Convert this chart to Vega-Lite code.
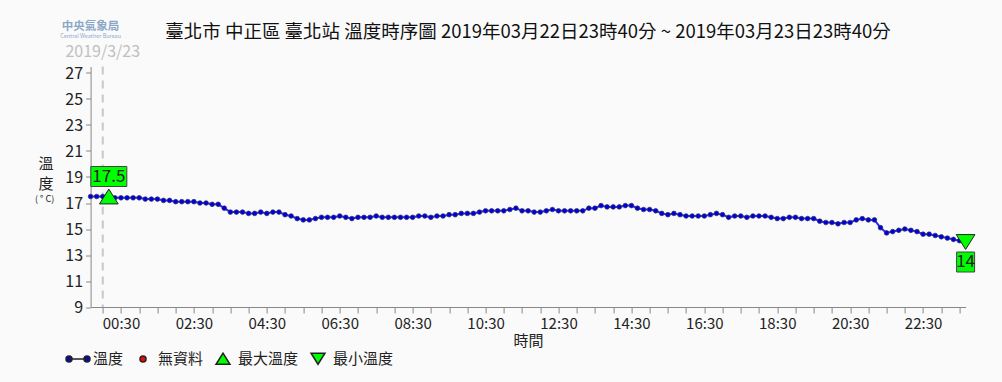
{
  "$schema": "https://vega.github.io/schema/vega-lite/v6.json",
  "autosize": "none",
  "width": 875,
  "height": 240.5,
  "padding": {"left": 90.6, "top": 66.5, "right": 36.4, "bottom": 75},
  "background": "#fafafa",
  "title": {
    "text": "臺北市 中正區 臺北站 溫度時序圖 2019年03月22日23時40分 ~ 2019年03月23日23時40分",
    "fontSize": 18.5,
    "fontWeight": "normal",
    "color": "#111111",
    "anchor": "middle",
    "offset": -20.5
  },
  "datasets": {
    "temp": [
      {"t": "2019-03-22T23:40", "v": 17.5}, {"t": "2019-03-22T23:50", "v": 17.5},
      {"t": "2019-03-23T00:00", "v": 17.5}, {"t": "2019-03-23T00:10", "v": 17.5},
      {"t": "2019-03-23T00:20", "v": 17.4}, {"t": "2019-03-23T00:30", "v": 17.4},
      {"t": "2019-03-23T00:40", "v": 17.4}, {"t": "2019-03-23T00:50", "v": 17.4},
      {"t": "2019-03-23T01:00", "v": 17.4}, {"t": "2019-03-23T01:10", "v": 17.3},
      {"t": "2019-03-23T01:20", "v": 17.3}, {"t": "2019-03-23T01:30", "v": 17.3},
      {"t": "2019-03-23T01:40", "v": 17.2}, {"t": "2019-03-23T01:50", "v": 17.2},
      {"t": "2019-03-23T02:00", "v": 17.1}, {"t": "2019-03-23T02:10", "v": 17.1},
      {"t": "2019-03-23T02:20", "v": 17.1}, {"t": "2019-03-23T02:30", "v": 17.1},
      {"t": "2019-03-23T02:40", "v": 17.0}, {"t": "2019-03-23T02:50", "v": 17.0},
      {"t": "2019-03-23T03:00", "v": 16.9}, {"t": "2019-03-23T03:10", "v": 16.9},
      {"t": "2019-03-23T03:20", "v": 16.6}, {"t": "2019-03-23T03:30", "v": 16.3},
      {"t": "2019-03-23T03:40", "v": 16.3}, {"t": "2019-03-23T03:50", "v": 16.3},
      {"t": "2019-03-23T04:00", "v": 16.2}, {"t": "2019-03-23T04:10", "v": 16.2},
      {"t": "2019-03-23T04:20", "v": 16.3}, {"t": "2019-03-23T04:30", "v": 16.2},
      {"t": "2019-03-23T04:40", "v": 16.3}, {"t": "2019-03-23T04:50", "v": 16.3},
      {"t": "2019-03-23T05:00", "v": 16.1}, {"t": "2019-03-23T05:10", "v": 16.0},
      {"t": "2019-03-23T05:20", "v": 15.8}, {"t": "2019-03-23T05:30", "v": 15.7},
      {"t": "2019-03-23T05:40", "v": 15.7}, {"t": "2019-03-23T05:50", "v": 15.8},
      {"t": "2019-03-23T06:00", "v": 15.9}, {"t": "2019-03-23T06:10", "v": 15.9},
      {"t": "2019-03-23T06:20", "v": 15.9}, {"t": "2019-03-23T06:30", "v": 16.0},
      {"t": "2019-03-23T06:40", "v": 15.9}, {"t": "2019-03-23T06:50", "v": 15.8},
      {"t": "2019-03-23T07:00", "v": 15.9}, {"t": "2019-03-23T07:10", "v": 15.9},
      {"t": "2019-03-23T07:20", "v": 15.9}, {"t": "2019-03-23T07:30", "v": 16.0},
      {"t": "2019-03-23T07:40", "v": 15.9}, {"t": "2019-03-23T07:50", "v": 15.9},
      {"t": "2019-03-23T08:00", "v": 15.9}, {"t": "2019-03-23T08:10", "v": 15.9},
      {"t": "2019-03-23T08:20", "v": 15.9}, {"t": "2019-03-23T08:30", "v": 15.9},
      {"t": "2019-03-23T08:40", "v": 16.0}, {"t": "2019-03-23T08:50", "v": 16.0},
      {"t": "2019-03-23T09:00", "v": 15.9}, {"t": "2019-03-23T09:10", "v": 16.0},
      {"t": "2019-03-23T09:20", "v": 16.0}, {"t": "2019-03-23T09:30", "v": 16.1},
      {"t": "2019-03-23T09:40", "v": 16.1}, {"t": "2019-03-23T09:50", "v": 16.2},
      {"t": "2019-03-23T10:00", "v": 16.2}, {"t": "2019-03-23T10:10", "v": 16.2},
      {"t": "2019-03-23T10:20", "v": 16.3}, {"t": "2019-03-23T10:30", "v": 16.4},
      {"t": "2019-03-23T10:40", "v": 16.4}, {"t": "2019-03-23T10:50", "v": 16.4},
      {"t": "2019-03-23T11:00", "v": 16.4}, {"t": "2019-03-23T11:10", "v": 16.5},
      {"t": "2019-03-23T11:20", "v": 16.6}, {"t": "2019-03-23T11:30", "v": 16.4},
      {"t": "2019-03-23T11:40", "v": 16.4}, {"t": "2019-03-23T11:50", "v": 16.3},
      {"t": "2019-03-23T12:00", "v": 16.3}, {"t": "2019-03-23T12:10", "v": 16.4},
      {"t": "2019-03-23T12:20", "v": 16.5}, {"t": "2019-03-23T12:30", "v": 16.4},
      {"t": "2019-03-23T12:40", "v": 16.4}, {"t": "2019-03-23T12:50", "v": 16.4},
      {"t": "2019-03-23T13:00", "v": 16.4}, {"t": "2019-03-23T13:10", "v": 16.4},
      {"t": "2019-03-23T13:20", "v": 16.6}, {"t": "2019-03-23T13:30", "v": 16.6},
      {"t": "2019-03-23T13:40", "v": 16.8}, {"t": "2019-03-23T13:50", "v": 16.7},
      {"t": "2019-03-23T14:00", "v": 16.7}, {"t": "2019-03-23T14:10", "v": 16.7},
      {"t": "2019-03-23T14:20", "v": 16.8}, {"t": "2019-03-23T14:30", "v": 16.8},
      {"t": "2019-03-23T14:40", "v": 16.6}, {"t": "2019-03-23T14:50", "v": 16.5},
      {"t": "2019-03-23T15:00", "v": 16.5}, {"t": "2019-03-23T15:10", "v": 16.4},
      {"t": "2019-03-23T15:20", "v": 16.2}, {"t": "2019-03-23T15:30", "v": 16.1},
      {"t": "2019-03-23T15:40", "v": 16.2}, {"t": "2019-03-23T15:50", "v": 16.1},
      {"t": "2019-03-23T16:00", "v": 16.0}, {"t": "2019-03-23T16:10", "v": 16.0},
      {"t": "2019-03-23T16:20", "v": 16.0}, {"t": "2019-03-23T16:30", "v": 16.0},
      {"t": "2019-03-23T16:40", "v": 16.1}, {"t": "2019-03-23T16:50", "v": 16.2},
      {"t": "2019-03-23T17:00", "v": 16.1}, {"t": "2019-03-23T17:10", "v": 15.9},
      {"t": "2019-03-23T17:20", "v": 16.0}, {"t": "2019-03-23T17:30", "v": 16.0},
      {"t": "2019-03-23T17:40", "v": 15.9}, {"t": "2019-03-23T17:50", "v": 16.0},
      {"t": "2019-03-23T18:00", "v": 16.0}, {"t": "2019-03-23T18:10", "v": 16.0},
      {"t": "2019-03-23T18:20", "v": 15.9}, {"t": "2019-03-23T18:30", "v": 15.8},
      {"t": "2019-03-23T18:40", "v": 15.8}, {"t": "2019-03-23T18:50", "v": 15.9},
      {"t": "2019-03-23T19:00", "v": 15.9}, {"t": "2019-03-23T19:10", "v": 15.8},
      {"t": "2019-03-23T19:20", "v": 15.8}, {"t": "2019-03-23T19:30", "v": 15.8},
      {"t": "2019-03-23T19:40", "v": 15.6}, {"t": "2019-03-23T19:50", "v": 15.5},
      {"t": "2019-03-23T20:00", "v": 15.5}, {"t": "2019-03-23T20:10", "v": 15.4},
      {"t": "2019-03-23T20:20", "v": 15.5}, {"t": "2019-03-23T20:30", "v": 15.5},
      {"t": "2019-03-23T20:40", "v": 15.7}, {"t": "2019-03-23T20:50", "v": 15.8},
      {"t": "2019-03-23T21:00", "v": 15.7}, {"t": "2019-03-23T21:10", "v": 15.7},
      {"t": "2019-03-23T21:20", "v": 15.1}, {"t": "2019-03-23T21:30", "v": 14.7},
      {"t": "2019-03-23T21:40", "v": 14.8}, {"t": "2019-03-23T21:50", "v": 14.9},
      {"t": "2019-03-23T22:00", "v": 15.0}, {"t": "2019-03-23T22:10", "v": 14.9},
      {"t": "2019-03-23T22:20", "v": 14.8}, {"t": "2019-03-23T22:30", "v": 14.6},
      {"t": "2019-03-23T22:40", "v": 14.6}, {"t": "2019-03-23T22:50", "v": 14.5},
      {"t": "2019-03-23T23:00", "v": 14.4}, {"t": "2019-03-23T23:10", "v": 14.3},
      {"t": "2019-03-23T23:20", "v": 14.2}, {"t": "2019-03-23T23:30", "v": 14.1},
      {"t": "2019-03-23T23:40", "v": 14.0}
    ],
    "extremes": [
      {"t": "2019-03-23T00:10", "v": 17.5, "kind": "最大溫度", "label": "17.5"},
      {"t": "2019-03-23T23:40", "v": 14.0, "kind": "最小溫度", "label": "14"}
    ],
    "notes": [
      {"t": "2019-03-23T00:00", "text": "2019/3/23", "kind": "day"},
      {"t": "2019-03-22T23:40", "text": "中央氣象局", "kind": "logo"},
      {"t": "2019-03-22T23:40", "text": "Central Weather Bureau", "kind": "logoen"},
      {"t": "2019-03-22T23:40", "text": "( ° C)", "kind": "unit"}
    ]
  },
  "encoding": {
    "x": {
      "field": "t",
      "type": "temporal",
      "scale": {
        "domain": [
          {"year": 2019, "month": 3, "date": 22, "hours": 23, "minutes": 40},
          {"year": 2019, "month": 3, "date": 23, "hours": 23, "minutes": 40}
        ],
        "nice": false
      },
      "axis": {
        "title": "時間",
        "titleFontSize": 15,
        "titleFontWeight": "normal",
        "titleColor": "#222222",
        "titlePadding": 2,
        "values": [
          {"year": 2019, "month": 3, "date": 23, "hours": 0, "minutes": 0}, {"year": 2019, "month": 3, "date": 23, "hours": 0, "minutes": 30},
          {"year": 2019, "month": 3, "date": 23, "hours": 1, "minutes": 0}, {"year": 2019, "month": 3, "date": 23, "hours": 1, "minutes": 30},
          {"year": 2019, "month": 3, "date": 23, "hours": 2, "minutes": 0}, {"year": 2019, "month": 3, "date": 23, "hours": 2, "minutes": 30},
          {"year": 2019, "month": 3, "date": 23, "hours": 3, "minutes": 0}, {"year": 2019, "month": 3, "date": 23, "hours": 3, "minutes": 30},
          {"year": 2019, "month": 3, "date": 23, "hours": 4, "minutes": 0}, {"year": 2019, "month": 3, "date": 23, "hours": 4, "minutes": 30},
          {"year": 2019, "month": 3, "date": 23, "hours": 5, "minutes": 0}, {"year": 2019, "month": 3, "date": 23, "hours": 5, "minutes": 30},
          {"year": 2019, "month": 3, "date": 23, "hours": 6, "minutes": 0}, {"year": 2019, "month": 3, "date": 23, "hours": 6, "minutes": 30},
          {"year": 2019, "month": 3, "date": 23, "hours": 7, "minutes": 0}, {"year": 2019, "month": 3, "date": 23, "hours": 7, "minutes": 30},
          {"year": 2019, "month": 3, "date": 23, "hours": 8, "minutes": 0}, {"year": 2019, "month": 3, "date": 23, "hours": 8, "minutes": 30},
          {"year": 2019, "month": 3, "date": 23, "hours": 9, "minutes": 0}, {"year": 2019, "month": 3, "date": 23, "hours": 9, "minutes": 30},
          {"year": 2019, "month": 3, "date": 23, "hours": 10, "minutes": 0}, {"year": 2019, "month": 3, "date": 23, "hours": 10, "minutes": 30},
          {"year": 2019, "month": 3, "date": 23, "hours": 11, "minutes": 0}, {"year": 2019, "month": 3, "date": 23, "hours": 11, "minutes": 30},
          {"year": 2019, "month": 3, "date": 23, "hours": 12, "minutes": 0}, {"year": 2019, "month": 3, "date": 23, "hours": 12, "minutes": 30},
          {"year": 2019, "month": 3, "date": 23, "hours": 13, "minutes": 0}, {"year": 2019, "month": 3, "date": 23, "hours": 13, "minutes": 30},
          {"year": 2019, "month": 3, "date": 23, "hours": 14, "minutes": 0}, {"year": 2019, "month": 3, "date": 23, "hours": 14, "minutes": 30},
          {"year": 2019, "month": 3, "date": 23, "hours": 15, "minutes": 0}, {"year": 2019, "month": 3, "date": 23, "hours": 15, "minutes": 30},
          {"year": 2019, "month": 3, "date": 23, "hours": 16, "minutes": 0}, {"year": 2019, "month": 3, "date": 23, "hours": 16, "minutes": 30},
          {"year": 2019, "month": 3, "date": 23, "hours": 17, "minutes": 0}, {"year": 2019, "month": 3, "date": 23, "hours": 17, "minutes": 30},
          {"year": 2019, "month": 3, "date": 23, "hours": 18, "minutes": 0}, {"year": 2019, "month": 3, "date": 23, "hours": 18, "minutes": 30},
          {"year": 2019, "month": 3, "date": 23, "hours": 19, "minutes": 0}, {"year": 2019, "month": 3, "date": 23, "hours": 19, "minutes": 30},
          {"year": 2019, "month": 3, "date": 23, "hours": 20, "minutes": 0}, {"year": 2019, "month": 3, "date": 23, "hours": 20, "minutes": 30},
          {"year": 2019, "month": 3, "date": 23, "hours": 21, "minutes": 0}, {"year": 2019, "month": 3, "date": 23, "hours": 21, "minutes": 30},
          {"year": 2019, "month": 3, "date": 23, "hours": 22, "minutes": 0}, {"year": 2019, "month": 3, "date": 23, "hours": 22, "minutes": 30},
          {"year": 2019, "month": 3, "date": 23, "hours": 23, "minutes": 0}, {"year": 2019, "month": 3, "date": 23, "hours": 23, "minutes": 30}
        ],
        "labelExpr": "(hours(datum.value) % 2 == 0 && minutes(datum.value) == 30) ? timeFormat(datum.value, '%H:%M') : ''",
        "labelOverlap": false,
        "labelFlush": false,
        "labelFontSize": 15,
        "labelColor": "#222222",
        "labelPadding": 3,
        "tickSize": 6,
        "tickColor": "#888888",
        "domainColor": "#888888",
        "grid": false
      }
    }
  },
  "layer": [
    {
      "data": {"name": "notes"},
      "transform": [{"filter": "datum.kind == 'day'"}],
      "mark": {"type": "rule", "color": "#c8c8c8", "strokeWidth": 2, "strokeDash": [8, 6]},
      "encoding": {}
    },
    {
      "data": {"name": "notes"},
      "transform": [{"filter": "datum.kind == 'day'"}],
      "mark": {"type": "text", "color": "#c0c0c0", "fontSize": 16, "baseline": "middle", "align": "center", "dy": -14.5},
      "encoding": {
        "y": {"datum": 27.5, "type": "quantitative", "axis": {"values": [9, 11, 13, 15, 17, 19, 21, 23, 25, 27], "labelOverlap": false, "title": ["溫", "度"]}},
        "text": {"field": "text"}
      }
    },
    {
      "data": {"name": "notes"},
      "transform": [{"filter": "datum.kind == 'logo'"}],
      "mark": {"type": "text", "color": "#8aa9c8", "fontSize": 11.5, "fontWeight": "bold", "letterSpacing": 2.5, "baseline": "middle", "align": "center", "dy": -39.5},
      "encoding": {
        "y": {"datum": 27.5, "type": "quantitative", "axis": {"values": [9, 11, 13, 15, 17, 19, 21, 23, 25, 27], "labelOverlap": false, "title": ["溫", "度"]}},
        "text": {"field": "text"}
      }
    },
    {
      "data": {"name": "notes"},
      "transform": [{"filter": "datum.kind == 'logoen'"}],
      "mark": {"type": "text", "color": "#8aa9c8", "fontSize": 5.5, "baseline": "middle", "align": "center", "dy": -30.5},
      "encoding": {
        "y": {"datum": 27.5, "type": "quantitative", "axis": {"values": [9, 11, 13, 15, 17, 19, 21, 23, 25, 27], "labelOverlap": false, "title": ["溫", "度"]}},
        "text": {"field": "text"}
      }
    },
    {
      "data": {"name": "notes"},
      "transform": [{"filter": "datum.kind == 'unit'"}],
      "mark": {"type": "text", "color": "#222222", "fontSize": 9, "baseline": "middle", "align": "center", "dx": -46},
      "encoding": {
        "y": {"datum": 17.3, "type": "quantitative", "axis": {"values": [9, 11, 13, 15, 17, 19, 21, 23, 25, 27], "labelOverlap": false, "title": ["溫", "度"]}},
        "text": {"field": "text"}
      }
    },
    {
      "data": {"name": "temp"},
      "mark": {"type": "line", "color": "#2a2aff", "strokeWidth": 2},
      "encoding": {
        "y": {
          "field": "v",
          "type": "quantitative",
          "scale": {"domain": [9, 27.5], "nice": false, "zero": false},
          "axis": {
            "title": ["溫", "度"],
            "titleAngle": 0,
            "titleFontSize": 15,
            "titleFontWeight": "normal",
            "titleColor": "#222222",
            "titleAlign": "center",
            "titleBaseline": "top",
            "titleX": -45,
            "titleY": 90,
            "titleLineHeight": 20,
            "values": [9, 11, 13, 15, 17, 19, 21, 23, 25, 27],
            "labelOverlap": false,
            "labelFontSize": 16,
            "labelColor": "#222222",
            "labelPadding": 3,
            "tickSize": 5,
            "tickColor": "#888888",
            "domainColor": "#888888",
            "grid": false
          }
        }
      }
    },
    {
      "data": {"name": "temp"},
      "mark": {"type": "point", "filled": true, "fill": "#0000dd", "stroke": "#333355", "strokeWidth": 0.7, "size": 22, "opacity": 1},
      "encoding": {"y": {"field": "v", "type": "quantitative", "axis": {"values": [9, 11, 13, 15, 17, 19, 21, 23, 25, 27], "labelOverlap": false, "title": ["溫", "度"]}}}
    },
    {
      "data": {"name": "extremes"},
      "transform": [{"filter": "datum.kind == '最大溫度'"}],
      "mark": {"type": "point", "filled": true, "fill": "#00ff00", "stroke": "#444444", "strokeWidth": 1, "opacity": 1, "size": 1296, "shape": "M-1,-1.667L1,-1.667L1,-0.556L-1,-0.556Z"},
      "encoding": {"y": {"field": "v", "type": "quantitative", "axis": {"values": [9, 11, 13, 15, 17, 19, 21, 23, 25, 27], "labelOverlap": false, "title": ["溫", "度"]}}}
    },
    {
      "data": {"name": "extremes"},
      "transform": [{"filter": "datum.kind == '最小溫度'"}],
      "mark": {"type": "point", "filled": true, "fill": "#00ff00", "stroke": "#444444", "strokeWidth": 1, "opacity": 1, "size": 1296, "shape": "M-0.5,0.556L0.5,0.556L0.5,1.667L-0.5,1.667Z"},
      "encoding": {"y": {"field": "v", "type": "quantitative", "axis": {"values": [9, 11, 13, 15, 17, 19, 21, 23, 25, 27], "labelOverlap": false, "title": ["溫", "度"]}}}
    },
    {
      "data": {"name": "extremes"},
      "transform": [{"filter": "datum.kind == '最大溫度'"}],
      "mark": {"type": "text", "fontSize": 17, "color": "#222222", "baseline": "middle", "align": "center", "dy": -20},
      "encoding": {"y": {"field": "v", "type": "quantitative", "axis": {"values": [9, 11, 13, 15, 17, 19, 21, 23, 25, 27], "labelOverlap": false, "title": ["溫", "度"]}}, "text": {"field": "label"}}
    },
    {
      "data": {"name": "extremes"},
      "transform": [{"filter": "datum.kind == '最小溫度'"}],
      "mark": {"type": "text", "fontSize": 17, "color": "#222222", "baseline": "middle", "align": "center", "dy": 20},
      "encoding": {"y": {"field": "v", "type": "quantitative", "axis": {"values": [9, 11, 13, 15, 17, 19, 21, 23, 25, 27], "labelOverlap": false, "title": ["溫", "度"]}}, "text": {"field": "label"}}
    },
    {
      "data": {"name": "extremes"},
      "mark": {"type": "point", "filled": true, "stroke": "#222222", "strokeWidth": 1, "opacity": 1, "size": 1040},
      "encoding": {
        "y": {"field": "v", "type": "quantitative", "axis": {"values": [9, 11, 13, 15, 17, 19, 21, 23, 25, 27], "labelOverlap": false, "title": ["溫", "度"]}},
        "color": {
          "field": "kind",
          "type": "nominal",
          "scale": {
            "domain": ["溫度", "無資料", "最大溫度", "最小溫度"],
            "range": ["#0000dd", "#ff0000", "#00ff00", "#00ff00"]
          },
          "legend": {
            "orient": "none",
            "legendX": -25.6,
            "legendY": 279,
            "direction": "horizontal",
            "title": null,
            "padding": 0,
            "symbolSize": 576,
            "labelFontSize": 15,
            "labelColor": "#222222",
            "labelOffset": 2,
            "columnPadding": 6
          }
        },
        "shape": {
          "field": "kind",
          "type": "nominal",
          "scale": {
            "domain": ["溫度", "無資料", "最大溫度", "最小溫度"],
            "range": [
              "M-0.75,0L0.75,0M-0.5,0A0.25,0.25 0 1,1 -1,0A0.25,0.25 0 1,1 -0.5,0ZM1,0A0.25,0.25 0 1,1 0.5,0A0.25,0.25 0 1,1 1,0Z",
              "M0.25,0A0.25,0.25 0 1,1 -0.25,0A0.25,0.25 0 1,1 0.25,0Z",
              "M0,-0.46L0.58,0.46L-0.58,0.46Z",
              "M0,0.46L0.58,-0.46L-0.58,-0.46Z"
            ]
          }
        }
      }
    }
  ],
  "config": {
    "font": "Noto Sans CJK TC",
    "view": {"stroke": null}
  }
}
